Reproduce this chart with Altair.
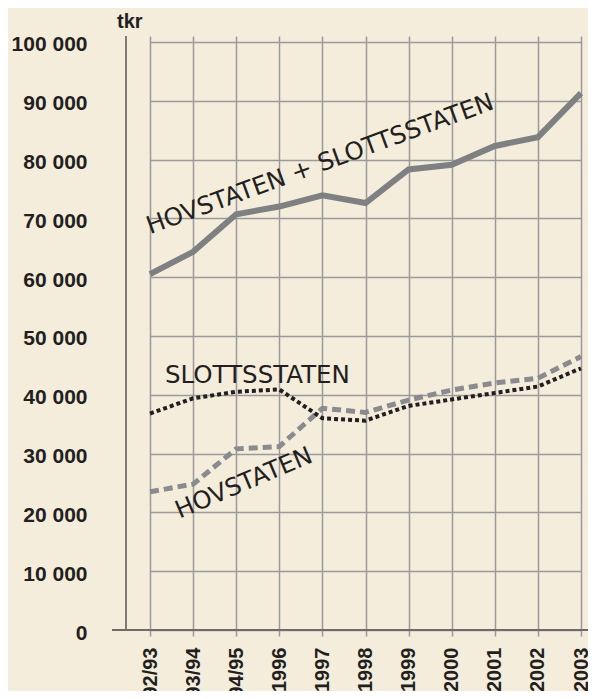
import altair as alt
import pandas as pd

# ---- data (tkr) ----
categories = ["92/93", "93/94", "94/95", "1996", "1997", "1998",
              "1999", "2000", "2001", "2002", "2003"]
total = [60500, 64300, 70700, 72000, 73900, 72600, 78300, 79100, 82300, 83800, 91300]
slottsstaten = [36800, 39400, 40500, 40900, 36000, 35600, 38100, 39200, 40300, 41400, 44500]
hovstaten = [23500, 24800, 30800, 31200, 37700, 37000, 39100, 40800, 42000, 42800, 46500]
y_ticks = [0, 10000, 20000, 30000, 40000, 50000, 60000, 70000, 80000, 90000, 100000]

ann_text = ["HOVSTATEN + SLOTTSSTATEN", "SLOTTSSTATEN", "HOVSTATEN"]
ann_cat = ["92/93", "92/93", "92/93"]
ann_value = [67300, 42000, 16800]

title_text = "ORDINARIE ANSLAG"
unit_text = "tkr"

# ---- layout / style ----
W, H = 476, 594
BG = "#f4eddc"
GRID = "#9a9a9a"
DARK = "#231f20"

df_total = pd.DataFrame({"year": categories, "value": total})
df_slott = pd.DataFrame({"year": categories, "value": slottsstaten})
df_hov = pd.DataFrame({"year": categories, "value": hovstaten})
df_ann = pd.DataFrame({"text": ann_text, "year": ann_cat, "value": ann_value})

xscale = alt.Scale(type="point", domain=categories, range=[38, 469], padding=0)
yscale = alt.Scale(domain=[0, 101000], nice=False, zero=True)

x_enc = alt.X("year:N", sort=categories, scale=xscale,
              axis=alt.Axis(title=None, labelAngle=270, labelFontSize=20,
                            labelFontWeight="bold", labelColor=DARK,
                            labelFont="Liberation Sans", labelPadding=11,
                            tickSize=6, tickColor=GRID, tickWidth=1.5,
                            domain=False, grid=True, gridColor=GRID,
                            gridWidth=1.5, labelOverlap=False))
y_enc = alt.Y("value:Q", scale=yscale,
              axis=alt.Axis(title=None, values=y_ticks, domain=False, ticks=False,
                            labelPadding=25, labelFontSize=21, labelFontWeight="bold",
                            labelColor=DARK, labelFont="Liberation Sans",
                            labelOffset=3, grid=True, gridColor=GRID, gridWidth=1.5,
                            labelExpr="replace(format(datum.value, ',d'), ',', ' ')"))

base_total = alt.Chart(df_total).mark_line(color="#7f8082", strokeWidth=6).encode(x=x_enc, y=y_enc)
line_hov = alt.Chart(df_hov).mark_line(color="#8a8b8e", strokeWidth=5,
                                       strokeDash=[9, 5]).encode(x="year:N", y="value:Q")
line_slott = alt.Chart(df_slott).mark_line(color=DARK, strokeWidth=4,
                                           strokeDash=[4, 3]).encode(x="year:N", y="value:Q")

ann1 = alt.Chart(df_ann.iloc[[0]]).mark_text(
    font="DejaVu Sans", fontSize=24.5, color=DARK, align="left", baseline="alphabetic",
    angle=340, dx=0).encode(x="year:N", y="value:Q", text="text:N")
ann2 = alt.Chart(df_ann.iloc[[1]]).mark_text(
    font="DejaVu Sans", fontSize=24.5, color=DARK, align="left", baseline="alphabetic",
    dx=15).encode(x="year:N", y="value:Q", text="text:N")
ann3 = alt.Chart(df_ann.iloc[[2]]).mark_text(
    font="DejaVu Sans", fontSize=24.5, color=DARK, align="left", baseline="alphabetic",
    angle=337, dx=32).encode(x="year:N", y="value:Q", text="text:N")

one = pd.DataFrame({"a": [0]})
left_rule = alt.Chart(one).mark_rule(color="#555555", strokeWidth=1.5).encode(
    x=alt.value(14), y=alt.value(0), y2=alt.value(H))
bottom_rule = alt.Chart(one).mark_rule(color="#6f6b66", strokeWidth=2).encode(
    x=alt.value(0), x2=alt.value(W), y=alt.value(H))

title = alt.Chart(one).mark_text(text=title_text, font="Liberation Sans", fontSize=22,
                                 fontWeight="bold", color=DARK, align="left",
                                 baseline="alphabetic").encode(
    x=alt.value(-99), y=alt.value(-32))
unit = alt.Chart(one).mark_text(text=unit_text, font="Liberation Sans", fontSize=20,
                                fontWeight="bold", color=DARK, align="left",
                                baseline="alphabetic").encode(
    x=alt.value(5), y=alt.value(-8))

chart = alt.layer(
    base_total, left_rule, bottom_rule, line_hov, line_slott, ann1, ann2, ann3, title, unit
).properties(
    width=W, height=H,
    autosize=alt.AutoSizeParams(type="none"),
    padding={"left": 104, "top": 28, "right": 0, "bottom": 61},
    background=BG,
).configure_view(stroke=None)

chart.save("out.html", embed_options={"renderer": "svg", "actions": False})
